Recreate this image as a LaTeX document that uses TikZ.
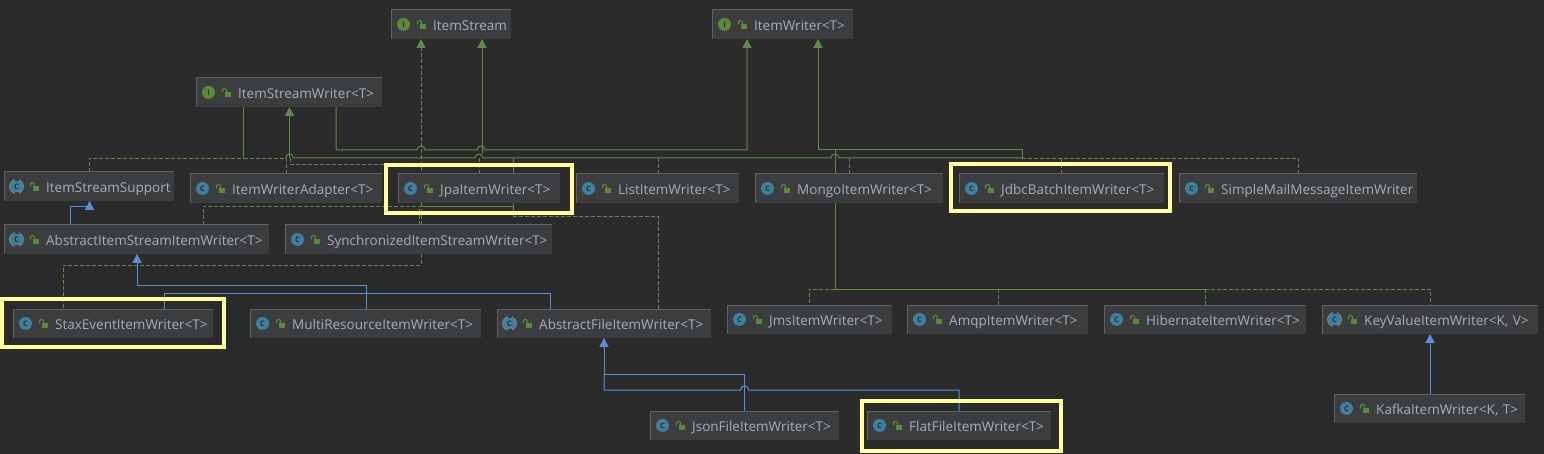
\documentclass[tikz,border=0pt]{standalone}
\usepackage{fontspec}
\setmainfont{Open Sans}
\usepackage{xcolor}
\usetikzlibrary{arrows.meta}
\usetikzlibrary{backgrounds}
\definecolor{canvas}{HTML}{2B2B2B}
\definecolor{boxfill}{HTML}{3C3D3E}
\definecolor{boxedge}{HTML}{5F6162}
\definecolor{labelgray}{HTML}{A3AFBD}
\definecolor{greenline}{HTML}{5F8A4A}
\definecolor{blueline}{HTML}{5A8FD8}
\definecolor{markyellow}{HTML}{FFFF9E}
\definecolor{classblue}{HTML}{3F7F9F}
\definecolor{faceblue}{HTML}{B6CBD6}
\definecolor{ifacegreen}{HTML}{5A8A3C}
\tikzstyle{classbox} = [fill=boxfill, minimum height=28.5pt, inner sep=0pt, anchor=north west, align=left, text=labelgray, font=\fontsize{13.5}{15}\selectfont, text height=12pt, text depth=0.4pt, execute at begin node={\hspace*{42pt}}, text width=#1 pt]
\tikzstyle{realize} = [greenline, dashed, dash pattern=on 4pt off 2pt, line width=0.8pt]
\tikzstyle{extend} = [greenline, line width=1pt]
\tikzstyle{inherit} = [blueline, line width=1pt]
\tikzstyle{gtip} = [-{Triangle[width=9pt,length=9pt,fill=greenline]}]
\tikzstyle{btip} = [-{Triangle[width=9pt,length=9pt,fill=blueline]}]
\tikzstyle{markbox} = [draw=markyellow, line width=4pt]
\tikzstyle{badge} = [circle, minimum size=13pt, inner sep=0pt, font=\bfseries\fontsize{7.5}{8}\selectfont]
\tikzset{lockicon/.pic={
  \fill[ifacegreen] (-2.5,-0.5) rectangle (3.5,4.5);
  \draw[ifacegreen, line width=1.1pt] (-4.5,0) -- (-4.5,-2) arc[start angle=180, end angle=0, radius=2pt] -- (-0.5,-0.5);
}}
\begin{document}
\begin{tikzpicture}[x=1pt, y=-1pt]
  \useasboundingbox (0,0) rectangle (1544,454);

  % interfaces
  \node[classbox=120] (stream) at (391,10) {ItemStream};
  \node[classbox=141] (writer) at (712,10) {ItemWriter<T>};
  \node[classbox=186] (streamwriter) at (196,78) {ItemStreamWriter<T>};

  % second row
  \node[classbox=170] (support) at (4,172) {ItemStreamSupport};
  \node[classbox=192] (adapter) at (190,174) {ItemWriterAdapter<T>};
  \node[classbox=162] (jpa) at (398,174) {JpaItemWriter<T>};
  \node[classbox=163] (list) at (576,174) {ListItemWriter<T>};
  \node[classbox=188] (mongo) at (755,174) {MongoItemWriter<T>};
  \node[classbox=205] (jdbc) at (959,174) {JdbcBatchItemWriter<T>};
  \node[classbox=238] (mail) at (1179,174) {SimpleMailMessageItemWriter};

  % third row
  \node[classbox=265] (abstractstream) at (4,225) {AbstractItemStreamItemWriter<T>};
  \node[classbox=267] (sync) at (285,225) {SynchronizedItemStreamWriter<T>};

  % fourth row
  \node[classbox=200] (stax) at (13,309) {StaxEventItemWriter<T>};
  \node[classbox=231] (multi) at (250,309) {MultiResourceItemWriter<T>};
  \node[classbox=214] (abstractfile) at (497,309) {AbstractFileItemWriter<T>};
  \node[classbox=165] (jms) at (727,305) {JmsItemWriter<T>};
  \node[classbox=181] (amqp) at (907,305) {AmqpItemWriter<T>};
  \node[classbox=202] (hibernate) at (1104,305) {HibernateItemWriter<T>};
  \node[classbox=216] (keyvalue) at (1322,305) {KeyValueItemWriter<K, V>};

  % last row
  \node[classbox=189] (json) at (650,411) {JsonFileItemWriter<T>};
  \node[classbox=184] (flat) at (867,411) {FlatFileItemWriter<T>};
  \node[classbox=191] (kafka) at (1334,394) {KafkaItemWriter<K, T>};

  % box edges and icons
  \foreach \n in {stream,writer,streamwriter,support,adapter,jpa,list,mongo,jdbc,mail,abstractstream,sync,stax,multi,abstractfile,jms,amqp,hibernate,keyvalue,json,flat,kafka} {
    \draw[boxedge, line width=1pt] (\n.south west) -- (\n.north west) -- (\n.north east);
    \pic at ([xshift=31pt]\n.west) {lockicon};
  }
  \foreach \n in {stream,writer,streamwriter}
    \node[badge, fill=ifacegreen, text=canvas] at ([xshift=12.5pt]\n.west) {I};
  \foreach \n in {adapter,jpa,list,mongo,jdbc,mail,sync,stax,multi,jms,amqp,hibernate,json,flat,kafka}
    \node[badge, fill=classblue, text=canvas] at ([xshift=12.5pt]\n.west) {C};
  \foreach \n in {support,abstractstream,abstractfile,keyvalue} {
    \node[badge, minimum size=14pt, draw=faceblue!45!boxfill, line width=1pt, fill=classblue, text=canvas] at ([xshift=12.5pt]\n.west) {C};
    \fill[boxfill] ([xshift=10.5pt,yshift=8pt]\n.west) rectangle ([xshift=14.5pt,yshift=5.5pt]\n.west);
    \fill[boxfill] ([xshift=10.5pt,yshift=-8pt]\n.west) rectangle ([xshift=14.5pt,yshift=-5.5pt]\n.west);
  }

  \begin{scope}[on background layer]
    \fill[canvas] (0,0) rectangle (1544,454);

    % ItemStream and ItemWriter side
    \draw[realize, gtip] (sync.north -| 421,0) -- (stream.south -| 421,0);
    \draw[realize] (sync.south -| 421,0) -- (421,265) -- (63,265) -- (stax.north -| 63,0);
    \draw[extend, gtip] (482,154) -- (stream.south -| 482,0);
    \draw[realize] (jpa.north -| 479,0) -- (479,158);
    \draw[extend, gtip] (streamwriter.south -| 336,0) -- (336,150) -- (417,150) arc[start angle=180, end angle=0, radius=4pt] -- (477,150) arc[start angle=180, end angle=0, radius=4pt] -- (747,150) -- (writer.south -| 747,0);
    \draw[extend, gtip] (1022,158) -- (1022,150) -- (818,150) -- (writer.south -| 818,0);

    % ItemStreamWriter side
    \draw[extend] (streamwriter.south -| 243.5,0) -- (243.5,158);
    \draw[realize] (support.north -| 89,0) -- (89,158) -- (243.5,158);
    \draw[realize] (243.5,158) -- (285,158);
    \draw[extend, gtip] (289.5,158) -- (streamwriter.south -| 289.5,0);
    \draw[extend] (285.5,158) arc[start angle=180, end angle=0, radius=4pt] -- (475,158) arc[start angle=180, end angle=0, radius=4pt] -- (831,158) arc[start angle=180, end angle=0, radius=4pt] -- (1022,158);
    \draw[realize] (1022,158) -- (1298,158) -- (mail.north -| 1298,0);
    \draw[realize] (adapter.north -| 286,0) -- (286,158);
    \draw[realize] (290.5,158) -- (290.5,164.5) -- (513,164.5);
    \draw[realize] (list.north -| 658,0) -- (658,158);
    \draw[realize] (jdbc.north -| 1061,0) -- (1061,158);
    \draw[realize] (mongo.north -| 849,0) -- (849,158);
    \draw[extend] (513,158) -- (513,216);
    \draw[realize] (abstractstream.north -| 203,0) -- (203,206) -- (513,206);
    \draw[extend, line width=0.8pt] (420,206) -- (513,206);
    \draw[realize] (sync.north -| 419.5,0) -- (419.5,206);
    \draw[realize] (513,216) -- (658,216) -- (abstractfile.north -| 658,0);

    % MongoItemWriter children
    \draw[extend] (mongo.north -| 835,0) -- (835,150);
    \draw[extend] (mongo.south -| 835,0) -- (835,289);
    \draw[realize] (835,289) -- (809,289) -- (jms.north -| 809,0);
    \draw[extend, line width=0.8pt] (835,289) -- (1205,289);
    \draw[realize] (amqp.north -| 998,0) -- (998,289);
    \draw[realize] (hibernate.north -| 1205,0) -- (1205,289);
    \draw[realize] (1205,289) -- (1430,289) -- (keyvalue.north -| 1430,0);

    % blue inheritance
    \draw[inherit, btip] (abstractstream.north -| 70,0) -- (70,206.5) -- (89.5,206.5) -- (support.south -| 89.5,0);
    \draw[inherit, btip] (multi.north -| 366,0) -- (366,286) -- (137,286) -- (abstractstream.south -| 137,0);
    \draw[inherit] (stax.north -| 164,0) -- (164,293) -- (550.5,293) -- (abstractfile.north -| 550.5,0);
    \draw[inherit, btip] (json.north -| 744.5,0) -- (744.5,374) -- (604,374) -- (abstractfile.south -| 604,0);
    \draw[inherit] (flat.north -| 959,0) -- (959,390) -- (748.5,390) arc[start angle=0, end angle=180, radius=4pt] -- (604,390) -- (604,374);
    \draw[inherit, btip] (kafka.north -| 1430,0) -- (keyvalue.south -| 1430,0);
  \end{scope}

  % yellow marks
  \draw[markbox] (386,165) rectangle (572,213);
  \draw[markbox] (951,164) rectangle (1170,211);
  \draw[markbox] (2,299) rectangle (224,347);
  \draw[markbox] (862,401) rectangle (1061,451);
\end{tikzpicture}
\end{document}
